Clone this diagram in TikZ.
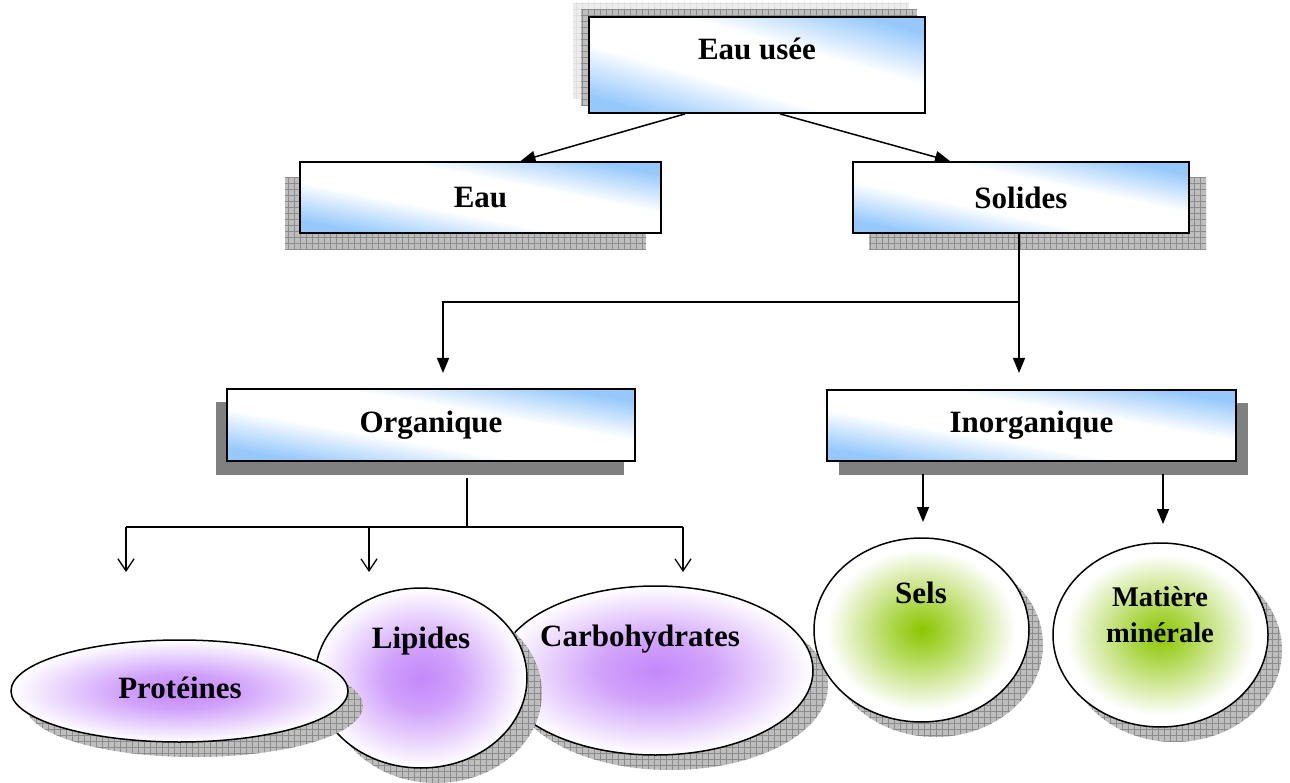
\documentclass[tikz,border=0pt]{standalone}
\usepackage{fontspec}
\setmainfont{Liberation Serif}
\usetikzlibrary{arrows.meta,shapes.geometric,patterns.meta,calc}
\definecolor{skyb}{RGB}{150,200,252}
\definecolor{purp}{RGB}{196,136,250}
\definecolor{grn}{RGB}{140,198,0}
\definecolor{shd}{RGB}{190,190,190}
\definecolor{shdl}{RGB}{236,236,236}
\pgfdeclareradialshading{purpshade}{\pgfpoint{0bp}{0bp}}{color(0bp)=(purp); color(9bp)=(purp!78!white); color(25bp)=(white); color(50bp)=(white)}
\pgfdeclareradialshading{grnshade}{\pgfpoint{0bp}{0bp}}{color(0bp)=(grn); color(6bp)=(grn!75!white); color(22bp)=(white); color(50bp)=(white)}
% diagonal blue-white-blue gradient aligned with the box diagonal
% #1 left, #2 top, #3 width, #4 height (pixel coordinates, y downwards)
% strip between the lines u+v=a and u+v=b (u rightwards, v upwards, box = unit square)
\newcommand\mygradfill[4]{%
  \begin{scope}
    \clip (#1,#2) rectangle ({#1+#3},{#2+#4});
    \fill[white] (#1,#2) rectangle ({#1+#3},{#2+#4});
    \foreach \i in {0,...,59}{%
      \pgfmathsetmacro\myA{\i/30}%
      \pgfmathsetmacro\myB{(\i+1.4)/30}%
      \pgfmathsetmacro\myC{abs((\i+0.5)/30-1)}%
      \pgfmathsetmacro\myP{max(0,min(100,100*(\myC-0.28)/0.55))}%
      \fill[skyb!\myP!white]
        ({#1+(\myA+1)*#3},{#2+2*#4}) -- ({#1-#3},{#2+#4-(\myA+1)*#4}) --
        ({#1-#3},{#2+#4-(\myB+1)*#4}) -- ({#1+(\myB+1)*#3},{#2+2*#4}) -- cycle;
    }
  \end{scope}}
\tikzset{
  boxnode/.style={draw=black, line width=1.8pt, rectangle, inner sep=0pt,
    font=\fontsize{31}{36}\selectfont\bfseries},
  ellnode/.style={draw=black, line width=1.5pt, ellipse, inner sep=0pt},
  purpell/.style={ellnode, shading=purpshade},
  grnell/.style={ellnode, shading=grnshade},
  lbl/.style={inner sep=0pt, align=center, font=\fontsize{31}{36}\selectfont\bfseries},
  checkshadow/.style={fill=shd, postaction={pattern={Hatch[angle=0,distance=6pt,line width=0.6pt]}, pattern color=black!45}},
  lightshadow/.style={fill=shdl, postaction={pattern={Hatch[angle=0,distance=6pt,line width=0.6pt]}, pattern color=black!12}},
  solidshadow/.style={fill=black!50},
  conn/.style={line width=1.5pt, draw=black},
  arrF/.style={conn, -{Triangle[length=15pt,width=12pt]}},
  arrO/.style={conn, -{Straight Barb[length=12pt,width=16pt,line width=1.3pt]}},
}
\begin{document}
\begin{tikzpicture}[x=1pt,y=-1pt]
\useasboundingbox (0,0) rectangle (1290,783);
\fill[white] (0,0) rectangle (1290,783);

% ---- box shadows
\fill[lightshadow] (573,3) rectangle (909,99);
\fill[checkshadow] (581,10) rectangle (917,106);
\fill[checkshadow] (285,178) rectangle (646,250);
\fill[checkshadow] (869,178) rectangle (1206,250);
\fill[solidshadow] (216,402) rectangle (624,475);
\fill[solidshadow] (839,403) rectangle (1248,475);

% ---- box gradients
\mygradfill{589}{17}{336}{96}
\mygradfill{300}{162}{361}{71}
\mygradfill{853}{162}{336}{71}
\mygradfill{227}{389}{408}{72}
\mygradfill{827}{390}{409}{71}

% ---- boxes
\node[boxnode, minimum width=336pt, minimum height=96pt] (eu) at (757,65) {};
\node[lbl] (euT) at (757,49) {Eau usée};
\node[boxnode, minimum width=361pt, minimum height=71pt] (eau) at (480.5,197.5) {Eau};
\node[boxnode, minimum width=336pt, minimum height=71pt] (sol) at (1021,197.5) {Solides};
\node[boxnode, minimum width=408pt, minimum height=72pt] (org) at (431,425) {Organique};
\node[boxnode, minimum width=409pt, minimum height=71pt] (inorg) at (1031.5,425.5) {Inorganique};

% ---- Carbohydrates
\fill[checkshadow] (670.5,685.5) ellipse [x radius=157.5, y radius=84.5];
\node[purpell, minimum width=315pt, minimum height=169pt] (carb) at (655.5,670.5) {};
\node[lbl] (carbT) at (640,639) {Carbohydrates};
% ---- Lipides
\fill[checkshadow] (436,693) ellipse [x radius=106, y radius=90];
\node[purpell, minimum width=212pt, minimum height=180pt] (lip) at (421,678) {};
\node[lbl] (lipT) at (421,641) {Lipides};
% ---- Protéines
\fill[checkshadow] (194.5,706) ellipse [x radius=168.5, y radius=51];
\node[purpell, minimum width=337pt, minimum height=102pt] (prot) at (179.5,691) {};
\node[lbl] (protT) at (180,688) {Protéines};
% ---- Sels
\fill[checkshadow] (935.5,645) ellipse [x radius=107.5, y radius=92];
\node[grnell, minimum width=215pt, minimum height=184pt] (sels) at (921.5,630) {};
\node[lbl] (selsT) at (921,593) {Sels};
% ---- Matière minérale
\fill[checkshadow] (1174.5,650) ellipse [x radius=107.5, y radius=92];
\node[grnell, minimum width=215pt, minimum height=184pt] (mat) at (1160.5,635) {};
\node[lbl, font=\fontsize{28.5}{36}\selectfont\bfseries] (matT) at (1160,615) {Matière\\minérale};

% ---- connectors
\draw[arrF] ([xshift=-72pt]eu.south) -- ([xshift=40pt]eau.north);
\draw[arrF] ([xshift=23pt]eu.south) -- ([xshift=-71pt]sol.north);

\coordinate (j1) at (1019,302);
\coordinate (j2) at (443,302);
\coordinate (orgTip) at (443,373);
\coordinate (inorgTip) at (1019,373);
\draw[conn] ([xshift=-2pt]sol.south) -- (j1);
\draw[arrF] (j1) -- (inorgTip);
\draw[arrF] (j1) -- (j2) -- (orgTip);

\coordinate (o0) at (467,478);
\coordinate (ob) at (467,527);
\coordinate (b1) at (126,527);
\coordinate (b2) at (369,527);
\coordinate (b3) at (683,527);
\coordinate (t1) at (126,572);
\coordinate (t2) at (369,572);
\coordinate (t3) at (683,572);
\draw[conn] (o0) -- (ob);
\draw[conn] (b1) -- (b3);
\draw[arrO] (b1) -- (t1);
\draw[arrO] (b2) -- (t2);
\draw[arrO] (b3) -- (t3);

\coordinate (s0) at (923,474);
\coordinate (s1) at (923,522);
\coordinate (m0) at (1163,474);
\coordinate (m1) at (1163,524);
\draw[arrF] (s0) -- (s1);
\draw[arrF] (m0) -- (m1);
\end{tikzpicture}
\end{document}
